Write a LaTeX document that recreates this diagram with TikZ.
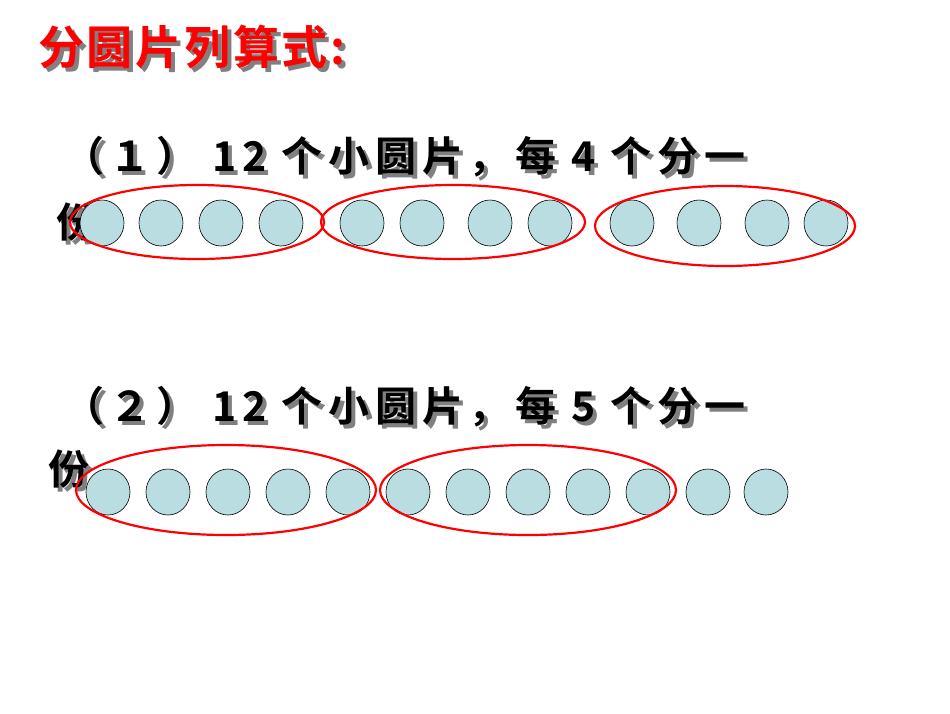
\documentclass[tikz,border=0pt]{standalone}
\usepackage{fontspec}
\usetikzlibrary{shapes.geometric}
\newfontfamily\cjk[LetterSpace=14]{Noto Sans CJK SC Bold}
\newfontfamily\cjkt[LetterSpace=6]{Noto Sans CJK SC Bold}
\definecolor{cfill}{HTML}{B9DDE0}
\begin{document}
\begin{tikzpicture}[x=1pt,y=-1pt,
  dot/.style={ellipse,draw=black,line width=0.6pt,fill=cfill,minimum width=44pt,minimum height=46pt,inner sep=0pt},
  grp/.style={draw=red,line width=2.2pt},
  txt/.style={anchor=west,inner sep=0pt,font=\cjk\fontsize{41}{41}\selectfont},
  ttl/.style={anchor=west,inner sep=0pt,font=\cjkt\fontsize{46}{46}\selectfont}]
\useasboundingbox (0,0) rectangle (950,713);
% title
\node[ttl,text=gray] at (42,51) {分圆片列算式:};
\node[ttl,text=red] (title) at (38,47) {分圆片列算式:};
% line 1
\node[txt,text=gray] at (67,161) {（１） 12 个小圆片，每 4 个分一};
\node[txt] (l1) at (63,157) {（１） 12 个小圆片，每 4 个分一};
\node[txt,text=gray] at (60,226) {份};
\node[txt] (f1) at (56,222) {份};
\foreach \x [count=\i] in {102,161,221,281,362,422,490,550,632,699,767,826}
  \node[dot] (a\i) at (\x,223) {};
\draw[grp] (197,222) ellipse [x radius=127,y radius=37];
\draw[grp] (453,222) ellipse [x radius=132,y radius=37];
\draw[grp] (725,226) ellipse [x radius=130,y radius=40];
% line 2
\node[txt,text=gray] at (67,411) {（２） 12 个小圆片，每 5 个分一};
\node[txt] (l2) at (63,407) {（２） 12 个小圆片，每 5 个分一};
\node[txt,text=gray] at (52,473) {份};
\node[txt] (f2) at (48,469) {份};
\foreach \x [count=\i] in {108,168,228,288,348,408,468,528,588,648,708,766}
  \node[dot] (b\i) at (\x,492) {};
\draw[grp] (226,490) ellipse [x radius=150,y radius=45];
\draw[grp] (528,490) ellipse [x radius=148,y radius=45];
\end{tikzpicture}
\end{document}
